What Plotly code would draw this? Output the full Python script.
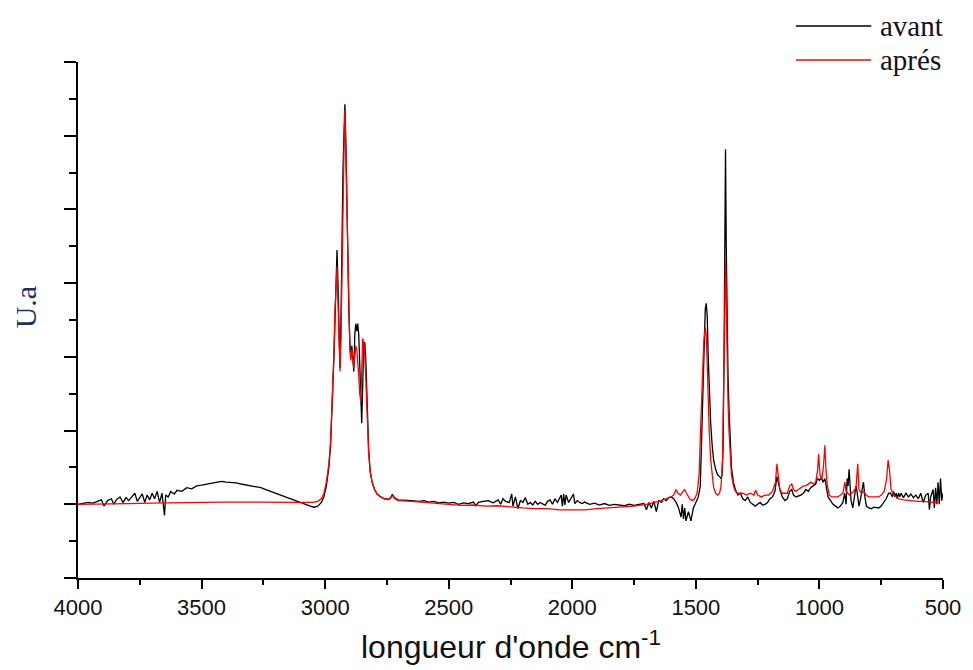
import plotly.graph_objects as go

# ---- data: wavenumber (cm-1) and intensity (arbitrary units) ----
avant_wn = [4000, 3980, 3960, 3940, 3920, 3905, 3895, 3880, 3865, 3855, 3845, 3830, 3818, 3805, 3795,
            3780, 3770, 3760, 3750, 3740, 3730, 3720, 3710, 3700, 3690, 3680, 3670, 3660, 3650, 3645,
            3635, 3625, 3610, 3600, 3580, 3560, 3540, 3520, 3500, 3480, 3460, 3440, 3420, 3400, 3380,
            3360, 3340, 3320, 3300, 3280, 3260, 3240, 3220, 3200, 3180, 3160, 3140, 3120, 3100, 3080,
            3060, 3045, 3030, 3015, 3005, 2995, 2985, 2978, 2970, 2965, 2960, 2956, 2952, 2948, 2944,
            2940, 2936, 2932, 2928, 2924, 2920, 2916, 2912, 2908, 2904, 2900, 2896, 2892, 2888, 2884,
            2880, 2876, 2872, 2868, 2864, 2860, 2856, 2852, 2848, 2844, 2840, 2836, 2832, 2828, 2824,
            2818, 2810, 2800, 2790, 2775, 2760, 2745, 2735, 2728, 2720, 2705, 2680, 2650, 2620, 2600,
            2580, 2560, 2540, 2520, 2500, 2480, 2460, 2440, 2420, 2400, 2390, 2380, 2360, 2340, 2320,
            2300, 2290, 2280, 2270, 2255, 2245, 2240, 2230, 2220, 2210, 2200, 2190, 2180, 2170, 2160,
            2150, 2140, 2130, 2110, 2100, 2090, 2080, 2070, 2060, 2045, 2040, 2035, 2030, 2025, 2015,
            2005, 1995, 1990, 1980, 1970, 1960, 1950, 1930, 1910, 1890, 1870, 1850, 1830, 1810, 1790,
            1770, 1750, 1730, 1710, 1700, 1690, 1680, 1670, 1660, 1650, 1640, 1630, 1620, 1610, 1600,
            1590, 1580, 1570, 1560, 1555, 1550, 1545, 1540, 1530, 1520, 1510, 1500, 1490, 1482, 1476,
            1470, 1466, 1462, 1458, 1454, 1450, 1446, 1440, 1434, 1428, 1420, 1412, 1404, 1398, 1394,
            1390, 1386, 1383, 1380, 1377, 1374, 1370, 1366, 1362, 1356, 1348, 1340, 1330, 1320, 1310,
            1300, 1290, 1280, 1270, 1260, 1250, 1240, 1230, 1220, 1210, 1200, 1190, 1180, 1172, 1166,
            1158, 1150, 1140, 1130, 1120, 1112, 1105, 1095, 1085, 1075, 1065, 1055, 1045, 1035, 1025,
            1015, 1008, 1000, 992, 985, 978, 972, 965, 955, 945, 935, 925, 915, 905, 898,
            892, 888, 884, 880, 876, 872, 865, 858, 852, 847, 840, 835, 828, 822, 816,
            810, 800, 790, 780, 770, 760, 750, 740, 730, 720, 712, 705, 700, 695, 690,
            685, 680, 675, 670, 660, 650, 640, 630, 620, 610, 600, 590, 580, 570, 560,
            555, 550, 540, 535, 530, 525, 520, 515, 510, 505, 500]
avant_val = [0.0, 0.02, 0.05, 0.03, 0.08, 0.12, -0.05, 0.1, 0.15, 0.0, 0.12, 0.2, 0.05, 0.18, 0.1,
             0.22, 0.3, 0.08, 0.2, 0.28, 0.05, 0.25, 0.12, 0.3, 0.15, 0.35, 0.05, 0.3, -0.3, 0.25,
             0.2, 0.35, 0.28, 0.38, 0.35, 0.45, 0.42, 0.5, 0.52, 0.55, 0.58, 0.6, 0.62, 0.6, 0.6,
             0.58, 0.55, 0.53, 0.5, 0.48, 0.45, 0.4, 0.35, 0.3, 0.25, 0.2, 0.15, 0.08, 0.03, 0.0,
             -0.05, -0.08, -0.05, 0.05, 0.2, 0.5, 1.0, 1.6, 2.8, 3.9, 5.0, 6.1, 6.9, 6.0, 4.5,
             3.7, 5.0, 7.5, 9.0, 10.0, 10.85, 9.8, 7.8, 6.5, 5.2, 4.4, 4.0, 4.3, 3.9, 3.6,
             4.6, 4.9, 4.7, 4.9, 4.6, 3.7, 2.9, 2.2, 3.2, 4.3, 4.4, 4.0, 3.2, 2.2, 1.5,
             0.9, 0.6, 0.4, 0.28, 0.2, 0.15, 0.13, 0.18, 0.27, 0.18, 0.12, 0.12, 0.1, 0.08, 0.1,
             0.06, 0.08, 0.04, 0.06, 0.03, 0.05, 0.0, 0.04, 0.02, 0.06, -0.04, 0.05, 0.08, 0.1, 0.04,
             0.12, 0.0, 0.15, 0.08, 0.05, 0.28, -0.05, 0.2, -0.12, 0.1, 0.05, 0.18, 0.0, 0.05, -0.02,
             0.08, 0.0, 0.05, -0.03, 0.08, 0.12, 0.0, 0.15, 0.05, 0.25, -0.05, 0.28, -0.02, 0.25, 0.05,
             0.18, 0.28, 0.02, 0.1, 0.05, 0.02, 0.06, 0.0, 0.03, -0.02, 0.02, -0.03, 0.0, -0.02, -0.04,
             0.0, -0.03, 0.0, 0.02, -0.15, 0.05, -0.1, 0.08, -0.2, 0.1, 0.05, 0.15, 0.1, 0.18, 0.2,
             0.15, 0.05, -0.1, -0.35, 0.0, -0.4, -0.1, -0.45, -0.2, -0.45, -0.1, 0.05, 0.2, 0.5, 2.0,
             3.5, 4.8, 5.3, 5.45, 5.1, 4.0, 3.0, 2.2, 1.6, 1.2, 0.95, 0.8, 0.75, 0.7, 0.8,
             1.5, 4.0, 7.0, 9.63, 7.0, 4.5, 3.5, 2.6, 1.8, 1.0, 0.6, 0.4, 0.25, 0.3, 0.15,
             0.1, 0.2, 0.05, 0.0, -0.05, 0.0, 0.05, -0.02, 0.0, 0.05, 0.15, 0.2, 0.35, 0.75, 0.55,
             0.35, 0.2, 0.1, 0.15, 0.35, 0.4, 0.25, 0.2, 0.22, 0.25, 0.3, 0.4, 0.35, 0.45, 0.5,
             0.55, 0.7, 0.65, 0.72, 0.6, 0.7, 0.4, 0.2, 0.1, 0.0, -0.05, -0.1, -0.05, 0.05, 0.3,
             0.0, 0.7, 0.5, 0.95, 0.6, 0.1, -0.1, 0.2, 0.5, 0.3, -0.05, 0.1, 0.4, 0.6, 0.2,
             -0.05, -0.1, -0.12, -0.08, -0.1, -0.1, -0.05, 0.05, 0.15, 0.3, 0.3, 0.2, 0.35, 0.2, 0.3,
             0.15, 0.3, 0.2, 0.3, 0.18, 0.3, 0.2, 0.28, 0.18, 0.25, 0.15, 0.3, 0.05, 0.25, 0.3,
             -0.15, 0.2, 0.4, -0.1, 0.45, 0.0, 0.6, 0.0, 0.7, 0.1, 0.3]

apres_wn = [4000, 3900, 3800, 3700, 3600, 3500, 3400, 3300, 3200, 3100, 3050, 3030, 3015, 3005, 2995,
            2985, 2978, 2970, 2965, 2960, 2956, 2952, 2948, 2944, 2940, 2936, 2932, 2928, 2924, 2920,
            2916, 2912, 2908, 2904, 2900, 2896, 2892, 2888, 2884, 2880, 2876, 2872, 2868, 2864, 2860,
            2856, 2852, 2848, 2844, 2840, 2836, 2832, 2828, 2824, 2818, 2810, 2800, 2790, 2775, 2760,
            2745, 2735, 2728, 2720, 2705, 2680, 2650, 2600, 2550, 2500, 2450, 2400, 2350, 2300, 2250,
            2200, 2150, 2100, 2050, 2000, 1950, 1900, 1850, 1800, 1750, 1700, 1650, 1620, 1600, 1590,
            1580, 1572, 1562, 1552, 1545, 1538, 1525, 1515, 1505, 1495, 1487, 1480, 1474, 1468, 1462,
            1458, 1454, 1450, 1446, 1440, 1434, 1428, 1420, 1412, 1404, 1398, 1392, 1388, 1384, 1380,
            1377, 1374, 1370, 1366, 1362, 1356, 1348, 1340, 1330, 1310, 1295, 1280, 1265, 1258, 1250,
            1235, 1220, 1205, 1190, 1178, 1172, 1166, 1160, 1150, 1140, 1130, 1120, 1112, 1105, 1095,
            1085, 1075, 1065, 1055, 1045, 1035, 1025, 1015, 1008, 1003, 998, 990, 984, 978, 974,
            968, 960, 950, 940, 925, 915, 905, 897, 892, 885, 878, 870, 862, 852, 845,
            840, 830, 820, 812, 800, 790, 780, 770, 760, 750, 738, 728, 722, 716, 710,
            700, 680, 660, 640, 620, 600, 580, 560, 540, 520]
apres_val = [0.0, 0.0, 0.02, 0.03, 0.03, 0.05, 0.06, 0.05, 0.06, 0.05, 0.05, 0.08, 0.15, 0.3, 0.6,
             1.1, 1.7, 2.9, 4.0, 5.3, 6.2, 6.45, 5.5, 4.2, 3.6, 4.5, 6.5, 7.0, 9.5, 10.7,
             9.5, 7.5, 6.2, 5.0, 4.2, 3.9, 4.2, 4.0, 3.7, 4.0, 4.3, 4.2, 3.9, 3.5, 3.0,
             2.8, 3.6, 4.5, 4.4, 4.1, 3.5, 2.8, 2.0, 1.4, 0.9, 0.6, 0.4, 0.28, 0.2, 0.15,
             0.13, 0.16, 0.25, 0.16, 0.1, 0.1, 0.08, 0.05, 0.02, -0.02, -0.03, -0.02, -0.05, -0.04, -0.08,
             -0.1, -0.12, -0.12, -0.15, -0.15, -0.15, -0.12, -0.1, -0.08, -0.05, 0.0, 0.08, 0.15, 0.2, 0.25,
             0.4, 0.3, 0.25, 0.35, 0.4, 0.3, 0.15, 0.1, 0.15, 0.3, 0.8, 2.2, 3.5, 4.4, 4.8,
             4.6, 3.8, 2.8, 2.0, 1.2, 0.7, 0.45, 0.3, 0.25, 0.3, 0.5, 1.2, 3.5, 5.5, 6.62,
             5.5, 3.8, 2.8, 2.0, 1.4, 0.8, 0.5, 0.35, 0.3, 0.3, 0.25, 0.3, 0.25, 0.38, 0.25,
             0.2, 0.25, 0.25, 0.35, 0.6, 1.1, 0.8, 0.4, 0.3, 0.3, 0.3, 0.5, 0.55, 0.4, 0.35,
             0.4, 0.45, 0.5, 0.5, 0.55, 0.6, 0.55, 0.6, 0.9, 1.36, 0.8, 0.7, 1.0, 1.6, 1.0,
             0.5, 0.25, 0.2, 0.2, 0.2, 0.25, 0.3, 0.6, 0.35, 0.3, 0.25, 0.3, 0.35, 0.45, 1.1,
             0.4, 0.3, 0.35, 0.25, 0.2, 0.2, 0.2, 0.2, 0.2, 0.25, 0.35, 0.7, 1.2, 0.9, 0.4,
             0.25, 0.15, 0.12, 0.1, 0.1, 0.08, 0.08, 0.06, 0.05, 0.05]

x_ticks = [4000, 3500, 3000, 2500, 2000, 1500, 1000, 500]
x_ticklabels = ["4000", "3500", "3000", "2500", "2000", "1500", "1000", "500"]
series_names = ["avant", "aprés"]
series_colors = ["#000000", "#ff0000"]
x_title = "longueur d'onde cm<sup>-1</sup>"
y_title = "U.a"

fig = go.Figure()
fig.add_trace(go.Scatter(x=avant_wn, y=avant_val, mode="lines", name=series_names[0],
                         line=dict(color=series_colors[0], width=1.3), showlegend=False))
fig.add_trace(go.Scatter(x=apres_wn, y=apres_val, mode="lines", name=series_names[1],
                         line=dict(color=series_colors[1], width=1.3), showlegend=False))

# manual legend (long line samples like the original)
legend_y = [1.070, 1.004]
for name, col, ly in zip(series_names, series_colors, legend_y):
    fig.add_shape(type="line", xref="paper", yref="paper", x0=0.830, x1=0.917, y0=ly, y1=ly,
                  line=dict(color=col, width=1.5))
    fig.add_annotation(xref="paper", yref="paper", x=0.925, y=ly, text=name, showarrow=False,
                       xanchor="left", yanchor="middle",
                       font=dict(family="Liberation Serif", size=29, color="#111122"))

# axis titles placed like the original
fig.add_annotation(xref="paper", yref="paper", x=0.5, y=-0.130, text=x_title, showarrow=False,
                   xanchor="center", yanchor="middle",
                   font=dict(family="Liberation Sans", size=32, color="#111111"))
fig.add_annotation(xref="paper", yref="paper", x=-0.061, y=0.525, text=y_title, showarrow=False,
                   textangle=-90, xanchor="center", yanchor="middle",
                   font=dict(family="Liberation Serif", size=30, color="#1c2f66"))

fig.update_layout(
    width=965, height=662,
    margin=dict(l=70, r=28, t=54, b=92),
    paper_bgcolor="white", plot_bgcolor="white",
    xaxis=dict(range=[4000, 500], tickvals=x_ticks, ticktext=x_ticklabels,
               showgrid=False, zeroline=False, showline=True, linecolor="black", linewidth=2,
               ticks="outside", ticklen=9, tickwidth=2, tickcolor="black",
               tickfont=dict(family="Liberation Sans", size=22, color="#111111"),
               minor=dict(ticks="outside", ticklen=5, tickwidth=2, tickcolor="black", dtick=250, tick0=500, showgrid=False)),
    yaxis=dict(range=[-2, 12], dtick=2, tick0=0, showticklabels=False,
               showgrid=False, zeroline=False, showline=True, linecolor="black", linewidth=2,
               ticks="outside", ticklen=12, tickwidth=2, tickcolor="black",
               minor=dict(ticks="outside", ticklen=7, tickwidth=2, tickcolor="black", dtick=1, tick0=0, showgrid=False)),
)

fig.write_html("out.html")
